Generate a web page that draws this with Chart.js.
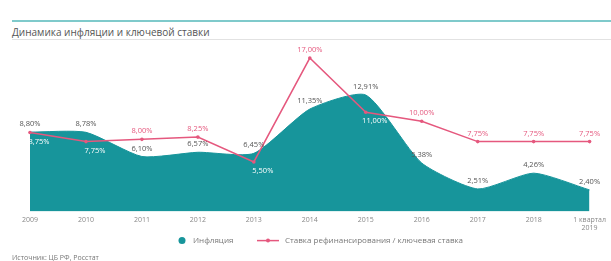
<!DOCTYPE html>
<html lang="ru">
<head>
<meta charset="utf-8">
<script src="https://cdn.jsdelivr.net/npm/chart.js@4"></script>
<style>
  html, body { margin:0; padding:0; background:#fff; width:611px; height:261px; overflow:hidden; font-family:"Open Sans", sans-serif; }
  .title-bar {
    position:absolute; left:12px; top:20px; width:599px; height:17px;
    border-top:2px solid #7fcacb; border-bottom:1px solid #e2e2e2;
    font-size:10px; line-height:20px; color:#555;
  }
  .wrap { position:absolute; left:0; top:34px; width:611px; height:227px; }
  .source { position:absolute; left:12px; top:253px; font-size:7px; color:#777; }
</style>
</head>
<body>
<div class="title-bar">Динамика инфляции и ключевой ставки</div>
<div class="wrap"><canvas id="chart"></canvas></div>
<div class="source">Источник: ЦБ РФ, Росстат</div>
<script>
// ── Data ──────────────────────────────────────────────────────────────────────
const years     = ['2009','2010','2011','2012','2013','2014','2015','2016','2017','2018',['1 квартал','2019']];
const inflation = [8.80, 8.78, 6.10, 6.57, 6.45, 11.35, 12.91, 5.38, 2.51, 4.26, 2.40];
const keyRate   = [8.75, 7.75, 8.00, 8.25, 5.50, 17.00, 11.00, 10.00, 7.75, 7.75, 7.75];
const seriesNames = ['Инфляция', 'Ставка рефинансирования / ключевая ставка'];

const TEAL = '#17959b';
const PINK = '#e5587e';
const FONT = '"Open Sans", sans-serif';

const fmt = v => v.toFixed(2).replace('.', ',') + '%';

// value labels drawn next to each point
const valueLabels = {
  id: 'valueLabels',
  afterDatasetsDraw(chart) {
    const ctx  = chart.ctx;
    const infl = chart.getDatasetMeta(0).data;
    const rate = chart.getDatasetMeta(1).data;
    ctx.save();
    ctx.font = '7.5px ' + FONT;
    ctx.textAlign = 'center';
    ctx.textBaseline = 'alphabetic';
    inflation.forEach((v, i) => {
      const r = keyRate[i], pi = infl[i], pr = rate[i];
      if (r < v) {
        ctx.fillStyle = '#555'; ctx.fillText(fmt(v), pi.x, pi.y - 6);
        ctx.fillStyle = '#fff'; ctx.fillText(fmt(r), pr.x + 9, pr.y + 11);
      } else {
        ctx.fillStyle = PINK;   ctx.fillText(fmt(r), pr.x, pr.y - 6);
        ctx.fillStyle = '#555'; ctx.fillText(fmt(v), pi.x, pi.y - 6);
      }
    });
    ctx.restore();
  }
};

// legend row under the axis (circle for the area, line+dot for the rate)
const bottomLegend = {
  id: 'bottomLegend',
  afterDraw(chart) {
    const ctx = chart.ctx;
    const y = chart.chartArea.bottom + 29;
    ctx.save();
    ctx.font = '8px ' + FONT;
    ctx.textBaseline = 'middle';
    ctx.textAlign = 'left';
    ctx.fillStyle = TEAL;
    ctx.beginPath(); ctx.arc(182, y, 3.5, 0, Math.PI * 2); ctx.fill();
    ctx.fillStyle = '#777';
    ctx.fillText(seriesNames[0], 193, y);
    ctx.strokeStyle = PINK; ctx.lineWidth = 1.5;
    ctx.beginPath(); ctx.moveTo(257, y); ctx.lineTo(279, y); ctx.stroke();
    ctx.fillStyle = PINK;
    ctx.beginPath(); ctx.arc(268, y, 2, 0, Math.PI * 2); ctx.fill();
    ctx.fillStyle = '#777';
    ctx.fillText(seriesNames[1], 285, y);
    ctx.restore();
  }
};

new Chart(document.getElementById('chart').getContext('2d'), {
  type: 'line',
  data: {
    labels: years,
    datasets: [{
      label: seriesNames[0],
      data: inflation,
      borderColor: TEAL,
      backgroundColor: TEAL,
      borderWidth: 1,
      fill: 'origin',
      tension: 0.2,
      pointRadius: 0,
      order: 2,
    }, {
      label: seriesNames[1],
      data: keyRate,
      borderColor: PINK,
      backgroundColor: PINK,
      borderWidth: 1.5,
      fill: false,
      tension: 0,
      pointRadius: 1.8,
      pointBorderWidth: 0,
      order: 1,
    }]
  },
  options: {
    responsive: true,
    maintainAspectRatio: false,
    animation: false,
    layout: { autoPadding: false, padding: { left: 30, right: 11, top: 6, bottom: 24 } },
    plugins: {
      legend: { display: false },
      tooltip: { enabled: false }
    },
    scales: {
      x: {
        offset: false,
        grid: { display: false, drawTicks: false },
        border: { display: false },
        ticks: { color: '#888', font: { size: 7, family: 'Open Sans', lineHeight: 1.1 }, maxRotation: 0, autoSkip: false, padding: 5 }
      },
      y: { display: false, min: 0, max: 19 }
    }
  },
  plugins: [valueLabels, bottomLegend]
});
</script>
</body>
</html>
